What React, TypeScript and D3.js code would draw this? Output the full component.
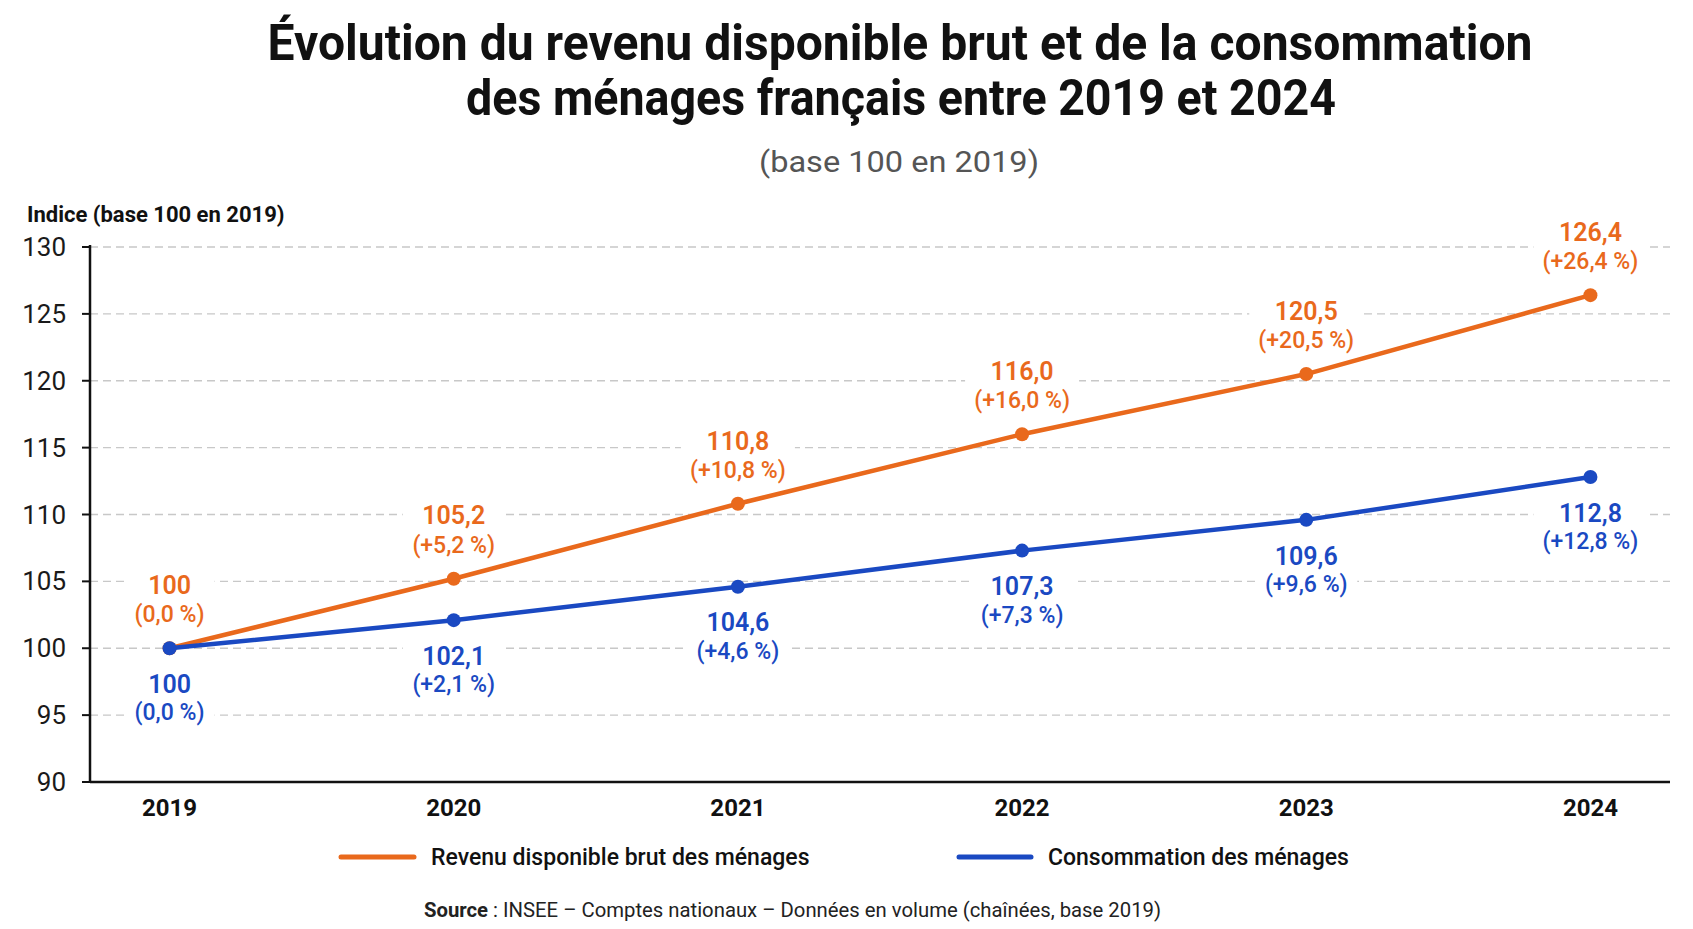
import React from 'react'
import * as d3 from 'd3'

const years = ['2019', '2020', '2021', '2022', '2023', '2024']
const revenu = [100, 105.2, 110.8, 116.0, 120.5, 126.4]
const conso = [100, 102.1, 104.6, 107.3, 109.6, 112.8]
const yTicks = [90, 95, 100, 105, 110, 115, 120, 125, 130]

const ORANGE = '#E9691C'
const BLUE = '#1A49C2'
const FONT = "Roboto, 'Noto Sans', sans-serif"

const W = 1693
const H = 929
const left = 90
const right = 1670
const top = 247
const bottom = 782

const fmt = (v: number) => (v === 100 ? '100' : v.toFixed(1).replace('.', ','))
const fmtPct = (v: number) => {
    const d = v - 100
    return d === 0 ? '(0,0 %)' : `(+${d.toFixed(1).replace('.', ',')} %)`
}

const App = () => {
    const x = d3.scalePoint<string>().domain(years).range([left, right]).padding(0.28)
    const y = d3.scaleLinear().domain([90, 130]).range([bottom, top])

    const line = d3.line<number>()
        .x((_, i) => x(years[i])!)
        .y(d => y(d))

    const series = [
        { values: revenu, color: ORANGE, above: true },
        { values: conso, color: BLUE, above: false },
    ]

    return (
        <svg width={W} height={H} style={{ position: 'absolute', left: 0, top: 0, background: '#fff' }} fontFamily={FONT}>
            <rect width={W} height={H} fill="#fff" />

            {/* titres */}
            <text x={900} y={60} textAnchor="middle" fontSize={50} fontWeight={700} fill="#111"
                textLength={1265} lengthAdjust="spacingAndGlyphs">
                Évolution du revenu disponible brut et de la consommation
            </text>
            <text x={901} y={115} textAnchor="middle" fontSize={50} fontWeight={700} fill="#111"
                textLength={870} lengthAdjust="spacingAndGlyphs">
                des ménages français entre 2019 et 2024
            </text>
            <text x={899} y={172} textAnchor="middle" fontSize={30} fill="#555"
                textLength={280} lengthAdjust="spacingAndGlyphs">
                (base 100 en 2019)
            </text>

            <text x={27} y={222} fontSize={22} fontWeight={700} fill="#111">Indice (base 100 en 2019)</text>

            {/* grille */}
            {yTicks.filter(t => t !== 90).map(t => (
                <line key={t} x1={left} x2={right} y1={y(t)} y2={y(t)}
                    stroke="#c8c8c8" strokeWidth={1.3} strokeDasharray="8 5" />
            ))}

            {/* axes */}
            {yTicks.map(t => (
                <g key={t}>
                    <line x1={left - 8} x2={left} y1={y(t)} y2={y(t)} stroke="#111" strokeWidth={2} />
                    <text x={66} y={y(t)} dy="0.35em" textAnchor="end" fontSize={26} fill="#1a1a1a">{t}</text>
                </g>
            ))}
            <line x1={left} x2={left} y1={top - 2} y2={bottom} stroke="#111" strokeWidth={2.5} />
            <line x1={left} x2={right} y1={bottom} y2={bottom} stroke="#111" strokeWidth={2.5} />
            {years.map(yr => (
                <text key={yr} x={x(yr)} y={808} dy="0.35em" textAnchor="middle" fontSize={24} fontWeight={700} fill="#111">{yr}</text>
            ))}

            {/* séries */}
            {series.map((s, k) => (
                <g key={k}>
                    <path d={line(s.values)!} fill="none" stroke={s.color} strokeWidth={4.5} strokeLinejoin="round" />
                    {s.values.map((v, i) => (
                        <circle key={i} cx={x(years[i])} cy={y(v)} r={7} fill={s.color} />
                    ))}
                </g>
            ))}

            {/* étiquettes */}
            {series.map((s, k) => (
                <g key={'l' + k}>
                    {s.values.map((v, i) => {
                        const cx = x(years[i])!
                        const cy = y(v)
                        const o1 = s.above ? -63 : 36
                        const o2 = s.above ? -34 : 64
                        const pct = fmtPct(v)
                        const bw = pct.length * 12 + 6
                        return (
                            <g key={i}>
                                <rect x={cx - bw / 2} y={cy + Math.min(o1, o2) - 14} width={bw} height={Math.abs(o2 - o1) + 28} fill="#fff" />
                                <text x={cx} y={cy + o1} dy="0.35em" textAnchor="middle" fontSize={25} fontWeight={600} fill={s.color}>{fmt(v)}</text>
                                <text x={cx} y={cy + o2} dy="0.35em" textAnchor="middle" fontSize={23} fontWeight={500} fill={s.color}>{pct}</text>
                            </g>
                        )
                    })}
                </g>
            ))}

            {/* légende */}
            <line x1={341} x2={414} y1={857} y2={857} stroke={ORANGE} strokeWidth={5} strokeLinecap="round" />
            <text x={431} y={857} dy="0.35em" fontSize={23} fontWeight={500} fill="#111">Revenu disponible brut des ménages</text>
            <line x1={959} x2={1031} y1={857} y2={857} stroke={BLUE} strokeWidth={5} strokeLinecap="round" />
            <text x={1048} y={857} dy="0.35em" fontSize={23} fontWeight={500} fill="#111">Consommation des ménages</text>

            {/* source */}
            <text x={424} y={917} fontSize={20.3} fill="#222">
                <tspan fontWeight={700}>Source</tspan> : INSEE – Comptes nationaux – Données en volume (chaînées, base 2019)
            </text>
        </svg>
    )
}

export default App
